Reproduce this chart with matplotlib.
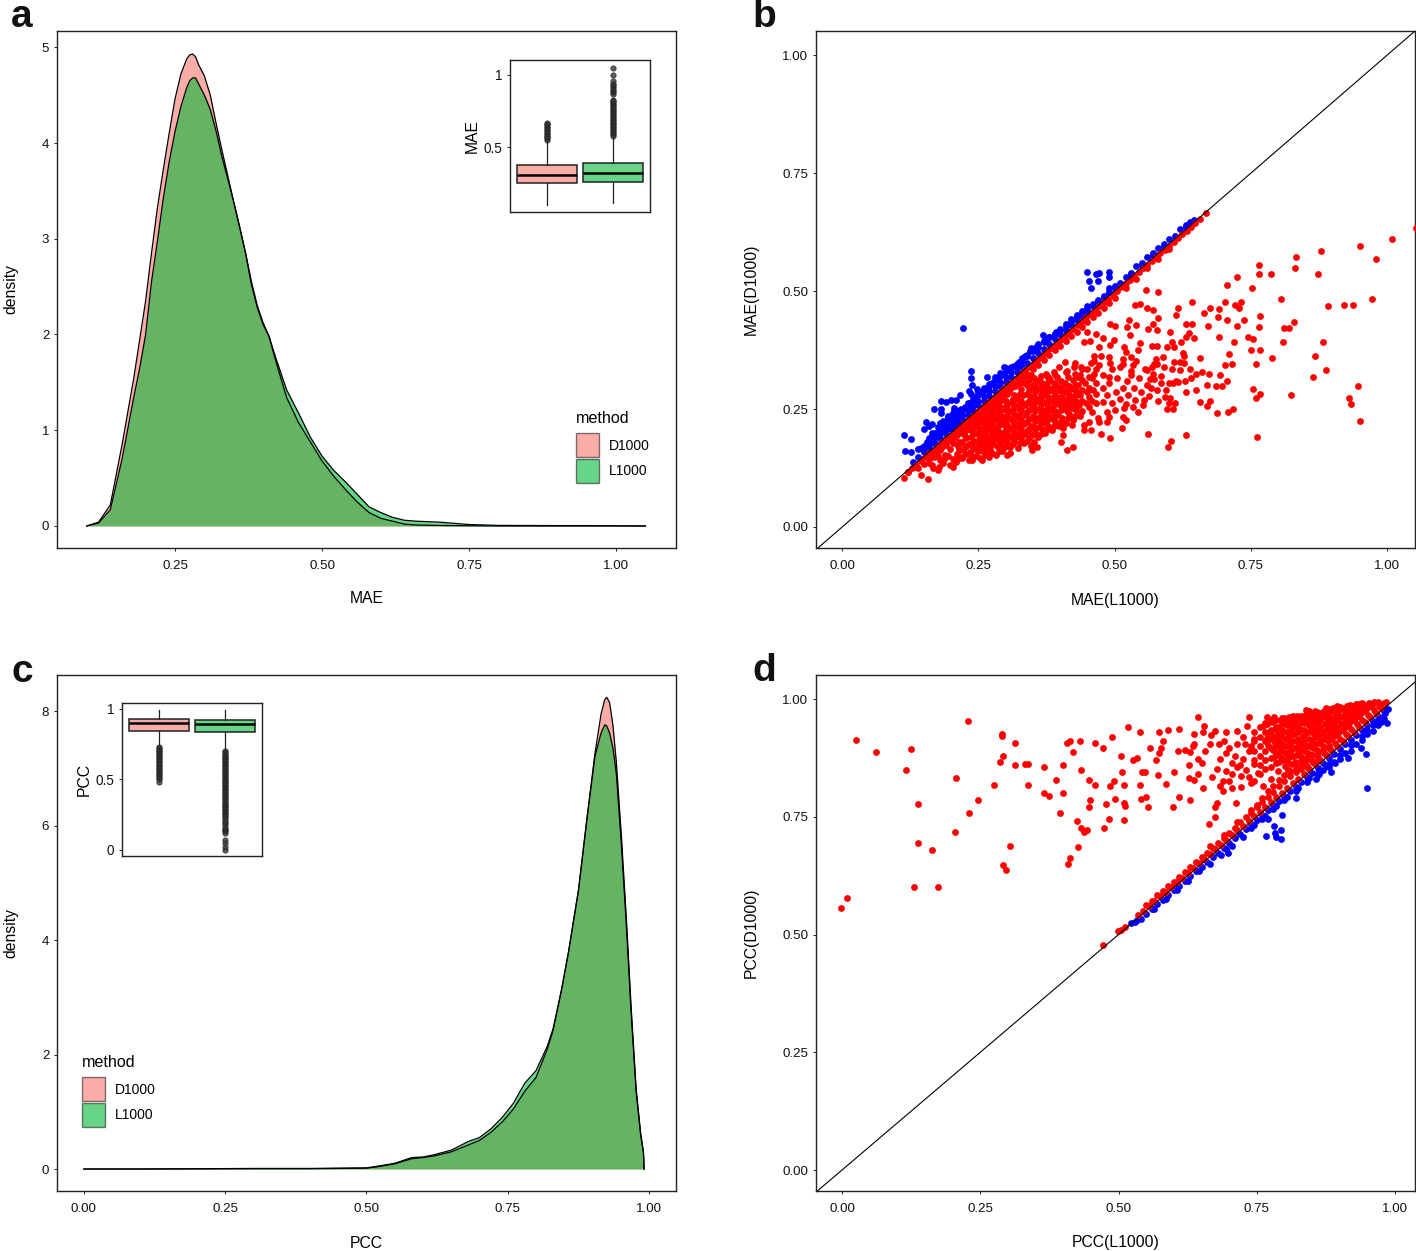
import numpy as np
import matplotlib
matplotlib.use('Agg')
import matplotlib.pyplot as plt
from matplotlib.patches import Patch

plt.rcParams['font.family'] = ['Liberation Sans', 'DejaVu Sans']

RED = '#F8766D'
GREEN = '#00BA38'
EDGE = '#222222'

# panel a density
mae_x = [.10, .12, .14, .16, .18, .19, .20, .21, .22, .23, .24, .25, .26, .27, .275, .28, .285, .29, .30, .31, .32, .33,
         .34, .35, .36, .37, .38, .39, .40, .41, .42, .44, .46, .48, .50, .52, .54, .56, .58, .60, .62, .64, .66, .70,
         .75, .80, .90, .96, 1.05]
mae_l1000 = [0, .03, .17, .7, 1.35, 1.65, 2.0, 2.55, 2.97, 3.42, 3.8, 4.12, 4.38, 4.58, 4.65, 4.68, 4.68, 4.62, 4.5, 4.35,
             4.12, 3.85, 3.62, 3.38, 3.12, 2.85, 2.52, 2.28, 2.1, 1.98, 1.78, 1.42, 1.18, .93, .73, .58, .46, .33, .2, .14,
             .09, .06, .05, .04, .015, .006, .004, .004, 0]
mae_d1000 = [0, .04, .22, .85, 1.55, 1.95, 2.35, 2.85, 3.32, 3.72, 4.1, 4.46, 4.72, 4.88, 4.92, 4.93, 4.9, 4.82, 4.7, 4.5,
             4.2, 3.92, 3.65, 3.38, 3.12, 2.85, 2.55, 2.3, 2.12, 1.98, 1.75, 1.34, 1.08, .88, .68, .52, .38, .25, .14, .08,
             .05, .02, .01, .005, .002, 0, 0, 0, 0]

# panel c density
pcc_x = [0, .1, .3, .4, .5, .52, .55, .58, .6, .62, .65, .68, .7, .72, .74, .76, .78, .80, .82, .83, .845, .857, .875, .889,
         .904, .915, .9215, .925, .93, .936, .942, .951, .96, .968, .977, .985, .99, .991]
pcc_l1000 = [0, 0, .01, .01, .02, .05, .1, .2, .21, .25, .33, .48, .55, .7, .9, 1.15, 1.5, 1.72, 2.15, 2.45, 3.13, 3.77,
             4.87, 6.04, 7.2, 7.62, 7.76, 7.74, 7.62, 7.35, 6.9, 5.65, 4.2, 2.75, 1.35, .6, .28, 0]
pcc_d1000 = [0, 0, .005, .005, .015, .04, .09, .18, .2, .23, .3, .42, .5, .64, .82, 1.05, 1.36, 1.6, 2.1, 2.42, 3.13, 3.77,
             4.87, 6.04, 7.25, 7.95, 8.2, 8.24, 8.15, 7.75, 7.1, 5.8, 4.32, 2.85, 1.4, .62, .28, 0]

# inset boxes: q1, median, q3, whisker low, whisker high
mae_box_d = [.25, .306, .373, .097, .544]
mae_box_l = [.257, .317, .389, .11, .572]
pcc_box_d = [.842, .90, .929, .74, .988]
pcc_box_l = [.834, .893, .922, .709, .988]
mae_fliers_d = [.55, .56, .57, .58, .59, .60, .61, .62, .63, .64, .65, .66, .67]
mae_fliers_l = [.58, .59, .60, .61, .62, .63, .64, .65, .66, .67, .68, .69, .70, .71, .72, .73, .74, .75, .76, .77, .78, .79,
                .80, .81, .82, .83, .87, .88, .89, .90, .92, .93, .94, .96, 1.0, 1.05]
pcc_fliers_d = [.73, .72, .71, .70, .69, .68, .67, .66, .65, .64, .63, .62, .61, .60, .59, .58, .57, .56, .55, .54, .53, .52,
                .51, .50, .48]
pcc_fliers_l = [.70, .69, .68, .67, .66, .65, .64, .63, .62, .61, .60, .59, .58, .57, .56, .55, .54, .53, .52, .51, .50, .49,
                .48, .47, .46, .45, .44, .43, .42, .41, .40, .39, .38, .37, .36, .35, .34, .33, .32, .31, .30, .29, .28, .27,
                .26, .25, .24, .23, .22, .20, .19, .18, .16, .15, .14, .13, .12, .07, .05, .02, .0]

# panel b scatter, loose points
b_red = [(1.008, .610), (.950, .596), (.879, .585), (.832, .573), (.980, .568), (.764, .556), (.830, .549), (.764, .537),
         (.787, .537), (.873, .537), (.724, .529), (.706, .512), (.752, .507), (.558, .503), (.579, .499), (.806, .484),
         (.973, .484), (.641, .477), (.703, .477), (.731, .477), (.538, .470), (.546, .472), (.720, .470), (.729, .465),
         (.891, .468), (.921, .470), (.938, .470), (.560, .464), (.570, .459), (.616, .463), (.613, .449), (.675, .463),
         (.691, .461), (.663, .454), (.690, .444), (.766, .447), (.579, .442), (.526, .438), (.706, .438), (.738, .438),
         (.829, .435), (.491, .431), (.501, .426), (.539, .428), (.522, .424), (.570, .431), (.631, .431), (.642, .431),
         (.672, .426), (.725, .426), (.764, .424), (.811, .421), (.820, .421), (.562, .419), (.577, .417), (.601, .414),
         (.528, .407), (.637, .412), (.450, .414), (.465, .410), (.478, .400), (.631, .402), (.645, .400), (.691, .402),
         (.744, .402), (.754, .398), (.455, .395), (.444, .391), (.498, .396), (.492, .386), (.546, .389), (.606, .393),
         (.622, .393), (.719, .391), (.808, .391), (.883, .391), (.471, .382), (.518, .382), (.568, .384), (.577, .384),
         (.596, .381), (.609, .381), (.542, .375), (.750, .375), (.766, .375), (.625, .368), (.709, .366), (.867, .363),
         (.789, .359), (.656, .359), (.521, .371), (.462, .362), (.474, .362), (.489, .361), (.515, .357), (.530, .361),
         (.575, .357), (.589, .361), (.609, .350), (.628, .347), (.759, .345), (.702, .343), (.716, .345), (.408, .350),
         (.427, .348), (.456, .347), (.471, .343), (.492, .347), (.534, .343), (.578, .345), (.439, .340), (.509, .338),
         (.559, .333), (.568, .338), (.619, .333), (.887, .333), (.863, .318), (.640, .316), (.650, .325), (.660, .328),
         (.673, .325), (.694, .323), (.706, .309), (.390, .323), (.411, .329), (.377, .318), (.433, .318), (.462, .325),
         (.489, .318), (.530, .322), (.565, .314), (.573, .313), (.585, .306), (.599, .305), (.607, .306), (.617, .308),
         (.629, .309), (.669, .300), (.685, .298), (.696, .298), (.567, .295), (.631, .286), (.754, .293), (.766, .282),
         (.759, .273), (.823, .280), (.946, .298), (.929, .273), (.933, .261), (.950, .224), (.761, .191), (.656, .265),
         (.675, .266), (.670, .256), (.687, .242), (.708, .244), (.717, .249), (.579, .266), (.610, .263), (.593, .276),
         (.602, .273), (.596, .249), (.607, .251), (.562, .198), (.631, .195), (.604, .182), (.598, .170), (.491, .189),
         (.475, .198), (.514, .209), (.518, .253), (.543, .244), (.534, .255), (.553, .269), (.515, .234), (.521, .227),
         (.486, .244), (.490, .234), (.456, .205), (.443, .205), (.443, .216), (.471, .222), (.485, .222), (.453, .222),
         (.458, .244), (.439, .244), (.423, .227), (.421, .216), (.405, .209), (.405, .194), (.402, .181), (.412, .163),
         (.423, .170), (.358, .170), (.349, .163), (.308, .156), (.303, .152), (.294, .160), (.264, .154), (.252, .146),
         (.239, .142), (.220, .146), (.204, .128), (.189, .146), (.180, .141), (.166, .124), (.175, .121), (.165, .131),
         (.145, .110), (.157, .102), (.114, .104), (.120, .117), (.134, .128), (1.052, .634)]

# panel b scatter, the dense cloud under the diagonal
b_red_cloud = [(.160, .135), (.168, .148), (.178, .128), (.175, .150), (.172, .160), (.185, .135), (.188, .152), (.183, .170),
               (.197, .131), (.195, .150), (.198, .165), (.193, .182), (.208, .138), (.210, .155), (.212, .172), (.207, .190),
               (.220, .148), (.222, .163), (.219, .180), (.224, .198), (.221, .208), (.232, .142), (.235, .158), (.233, .175),
               (.236, .190), (.234, .207), (.231, .220), (.245, .150), (.247, .168), (.244, .183), (.248, .200), (.246, .215),
               (.243, .232), (.257, .143), (.259, .160), (.256, .178), (.260, .195), (.258, .210), (.255, .228), (.259, .242),
               (.270, .148), (.272, .165), (.268, .185), (.271, .205), (.269, .222), (.273, .238), (.270, .255), (.282, .152),
               (.284, .172), (.281, .192), (.285, .208), (.283, .226), (.280, .245), (.284, .265), (.295, .165), (.297, .185),
               (.293, .200), (.296, .218), (.294, .235), (.298, .255), (.295, .278), (.308, .170), (.310, .190), (.306, .208),
               (.311, .226), (.308, .245), (.312, .265), (.307, .288), (.322, .168), (.320, .192), (.323, .212), (.319, .232),
               (.324, .250), (.321, .272), (.318, .298), (.334, .178), (.336, .198), (.333, .218), (.337, .238), (.335, .258),
               (.332, .280), (.336, .306), (.347, .172), (.349, .195), (.346, .215), (.350, .236), (.348, .258), (.345, .278),
               (.349, .298), (.346, .322), (.360, .190), (.362, .212), (.358, .232), (.363, .252), (.360, .272), (.357, .292),
               (.361, .312), (.372, .200), (.374, .220), (.371, .240), (.375, .258), (.373, .280), (.370, .300), (.374, .325),
               (.385, .205), (.386, .228), (.383, .248), (.387, .268), (.384, .290), (.382, .312), (.398, .215), (.396, .238),
               (.399, .258), (.395, .276), (.398, .296), (.394, .318), (.397, .338), (.410, .220), (.412, .245), (.409, .265),
               (.411, .285), (.408, .305), (.412, .330), (.423, .228), (.421, .252), (.424, .272), (.420, .292), (.423, .312),
               (.425, .338), (.436, .235), (.434, .258), (.437, .280), (.433, .300), (.436, .322), (.447, .262), (.449, .285),
               (.446, .305), (.450, .335), (.460, .290), (.458, .315), (.462, .352), (.458, .268), (.215, .163), (.215, .181),
               (.215, .199), (.228, .155), (.228, .172), (.228, .188), (.228, .205), (.240, .165), (.240, .180), (.240, .197),
               (.240, .212), (.240, .225), (.252, .172), (.252, .188), (.252, .205), (.252, .222), (.252, .236), (.265, .175),
               (.265, .192), (.265, .212), (.265, .230), (.265, .248), (.277, .182), (.277, .198), (.277, .215), (.277, .235),
               (.277, .255), (.290, .175), (.290, .195), (.290, .225), (.290, .245), (.290, .268), (.302, .180), (.302, .198),
               (.302, .216), (.302, .236), (.302, .258), (.302, .282), (.315, .182), (.315, .202), (.315, .220), (.315, .240),
               (.315, .258), (.315, .280), (.328, .188), (.328, .208), (.328, .228), (.328, .248), (.328, .268), (.328, .292),
               (.342, .188), (.342, .208), (.342, .228), (.342, .248), (.342, .268), (.342, .290), (.342, .312), (.354, .202),
               (.354, .225), (.354, .245), (.354, .265), (.354, .285), (.354, .305), (.366, .208), (.366, .230), (.366, .248),
               (.366, .268), (.366, .288), (.366, .305), (.378, .215), (.378, .235), (.378, .255), (.378, .275), (.378, .295),
               (.378, .318), (.391, .225), (.391, .245), (.391, .265), (.391, .285), (.391, .305), (.404, .232), (.404, .255),
               (.404, .275), (.404, .295), (.416, .240), (.416, .262), (.416, .280), (.416, .298), (.429, .248), (.429, .268),
               (.429, .288)]

b_red_fill = [(.203, .145), (.203, .178), (.215, .146), (.226, .192), (.226, .170), (.238, .150), (.238, .172), (.238, .203),
              (.250, .160), (.250, .180), (.250, .197), (.250, .214), (.250, .229), (.262, .152), (.262, .168), (.262, .186),
              (.262, .203), (.262, .221), (.262, .238), (.275, .157), (.275, .175), (.275, .192), (.275, .208), (.275, .225),
              (.275, .245), (.275, .262), (.288, .160), (.288, .185), (.288, .202), (.288, .217), (.288, .236), (.288, .256),
              (.288, .275), (.300, .172), (.300, .190), (.300, .207), (.300, .227), (.300, .247), (.300, .268), (.300, .290),
              (.313, .176), (.313, .196), (.313, .212), (.313, .232), (.313, .250), (.313, .272), (.313, .298), (.326, .178),
              (.326, .200), (.326, .220), (.326, .240), (.326, .260), (.326, .282), (.326, .305), (.339, .182), (.339, .203),
              (.339, .223), (.339, .243), (.339, .262), (.339, .282), (.339, .300), (.339, .320), (.352, .180), (.352, .212),
              (.352, .232), (.352, .255), (.352, .275), (.352, .295), (.352, .315), (.364, .198), (.364, .220), (.364, .240),
              (.364, .260), (.364, .280), (.364, .298), (.364, .320), (.377, .208), (.377, .228), (.377, .248), (.377, .268),
              (.377, .288), (.377, .308), (.388, .215), (.388, .238), (.388, .258), (.388, .278), (.388, .298), (.388, .328),
              (.402, .222), (.402, .248), (.402, .268), (.402, .288), (.402, .310), (.414, .232), (.414, .255), (.414, .272),
              (.414, .292), (.414, .318), (.427, .236), (.427, .260), (.427, .280), (.427, .300), (.427, .325), (.440, .245),
              (.440, .268), (.440, .290), (.440, .312), (.440, .335), (.452, .255), (.452, .275), (.452, .295), (.452, .318),
              (.465, .262), (.465, .282), (.465, .305), (.465, .335), (.470, .232), (.478, .265), (.478, .295), (.478, .322),
              (.485, .280), (.490, .305), (.495, .262), (.495, .335), (.500, .248), (.503, .285), (.505, .315), (.510, .272),
              (.515, .295), (.515, .345), (.520, .260), (.522, .310), (.525, .280), (.530, .330), (.535, .295), (.538, .270),
              (.540, .352), (.545, .315), (.548, .285), (.552, .258), (.555, .335), (.560, .300), (.563, .278), (.570, .325),
              (.572, .345), (.578, .290), (.585, .320), (.590, .340), (.595, .290), (.600, .262), (.605, .335), (.612, .310),
              (.620, .350), (.628, .362), (.638, .335), (.650, .290)]

# panel b, red hugging the diagonal
b_red_band = [(.120, .116), (.128, .124), (.136, .132), (.144, .140), (.152, .148), (.160, .156), (.168, .164), (.176, .172),
              (.184, .180), (.192, .188), (.200, .196), (.208, .204), (.216, .212), (.224, .220), (.232, .228), (.240, .236),
              (.248, .244), (.256, .252), (.264, .260), (.272, .268), (.280, .276), (.288, .284), (.296, .292), (.304, .300),
              (.312, .308), (.320, .316), (.328, .324), (.336, .332), (.344, .340), (.352, .348), (.360, .356), (.368, .364),
              (.376, .372), (.384, .380), (.392, .388), (.400, .396), (.408, .404), (.416, .412), (.424, .420), (.432, .428),
              (.440, .436), (.448, .444), (.456, .452), (.464, .460), (.472, .468), (.480, .476), (.488, .484), (.496, .492),
              (.504, .500), (.512, .508), (.520, .516), (.528, .524), (.536, .532), (.544, .540), (.552, .548), (.560, .556),
              (.568, .564), (.576, .572), (.584, .580), (.592, .588), (.600, .596), (.608, .604), (.616, .612), (.624, .620),
              (.632, .628), (.640, .636), (.648, .644), (.656, .652), (.668, .666), (.140, .124), (.150, .134), (.160, .144),
              (.170, .154), (.180, .164), (.190, .174), (.200, .184), (.210, .194), (.220, .204), (.230, .214), (.240, .224),
              (.250, .234), (.260, .244), (.270, .254), (.280, .264), (.290, .274), (.300, .284), (.310, .294), (.320, .304),
              (.330, .314), (.340, .324), (.350, .334), (.360, .344), (.370, .354), (.380, .364), (.390, .374), (.400, .384),
              (.410, .394), (.420, .404), (.430, .414), (.440, .424), (.450, .434), (.460, .444), (.470, .454), (.480, .464),
              (.490, .474), (.500, .486), (.520, .506), (.540, .526), (.560, .548), (.580, .568), (.600, .590)]

# panel b, blue
b_blue = [(.221, .422), (.450, .540), (.465, .536), (.472, .539), (.489, .540), (.452, .522), (.469, .522), (.490, .529),
          (.456, .506), (.489, .506), (.236, .330), (.236, .316), (.238, .301), (.266, .318), (.297, .338), (.369, .407),
          (.393, .414), (.346, .380), (.248, .292), (.232, .288), (.236, .282), (.217, .280), (.182, .266), (.190, .264),
          (.200, .269), (.208, .269), (.169, .249), (.182, .249), (.182, .242), (.205, .253), (.216, .248), (.154, .222),
          (.165, .218), (.151, .207), (.160, .213), (.114, .196), (.126, .186), (.116, .161), (.126, .158), (.160, .189),
          (.180, .220), (.195, .234), (.204, .241), (.145, .167), (.154, .170), (.163, .177),
          (.165, .190), (.170, .200), (.180, .205), (.185, .215), (.190, .222), (.195, .215), (.200, .225), (.205, .232),
          (.210, .240), (.215, .235), (.220, .245), (.225, .255), (.230, .258), (.235, .262), (.240, .268), (.245, .275),
          (.250, .280), (.255, .285), (.260, .290), (.265, .295), (.270, .298), (.275, .305), (.280, .312), (.285, .315),
          (.290, .320), (.295, .325), (.300, .330), (.305, .335), (.310, .340), (.315, .342), (.320, .345), (.325, .350),
          (.330, .358), (.335, .362), (.340, .365), (.345, .372), (.350, .378), (.355, .382), (.360, .388), (.370, .395),
          (.375, .398), (.380, .402), (.390, .408), (.400, .418), (.410, .425), (.420, .435), (.430, .445), (.440, .452),
          (.450, .462), (.460, .472), (.470, .482), (.480, .490), (.490, .498), (.500, .510), (.520, .530), (.530, .538),
          (.540, .552), (.550, .560), (.560, .572), (.570, .580), (.580, .592), (.590, .600), (.600, .610), (.620, .632),
          (.630, .640), (.638, .646), (.645, .650),
          (.130, .138), (.140, .148), (.150, .158), (.160, .168), (.170, .178), (.180, .188), (.190, .198), (.200, .208),
          (.210, .218), (.220, .228), (.230, .238), (.240, .248), (.250, .258), (.260, .268), (.270, .278), (.280, .288),
          (.290, .298), (.300, .308), (.310, .318), (.320, .328), (.330, .338), (.340, .348), (.350, .358), (.360, .368),
          (.370, .378), (.380, .388), (.390, .398), (.400, .408), (.410, .418), (.420, .428), (.430, .438), (.440, .448),
          (.450, .458), (.460, .468), (.470, .478), (.480, .488), (.490, .498), (.500, .506), (.510, .516), (.530, .536),
          (.550, .556), (.570, .576), (.590, .596), (.610, .616), (.630, .636),
          (.170, .190), (.180, .200), (.190, .210), (.200, .218), (.210, .228), (.220, .238), (.230, .248), (.240, .258),
          (.250, .268), (.260, .278), (.270, .288), (.280, .298), (.290, .308), (.300, .318), (.310, .328), (.320, .336),
          (.330, .352), (.340, .362), (.350, .372), (.360, .382), (.370, .392), (.380, .402), (.390, .410), (.400, .420),
          (.410, .430), (.420, .440), (.430, .450), (.440, .458), (.450, .468), (.195, .235), (.205, .245), (.212, .225),
          (.218, .250), (.165, .200), (.175, .212), (.185, .225), (.190, .205), (.205, .215), (.140, .165), (.150, .172),
          (.155, .180), (.170, .190), (.230, .262), (.240, .272), (.250, .285), (.260, .295), (.270, .302), (.280, .318),
          (.290, .326), (.300, .336)]

# panel d scatter, loose points
d_red = [(-.001, .557), (.009, .578), (.026, .913), (.061, .888), (.125, .894), (.115, .850), (.228, .953), (.206, .833),
         (.138, .777), (.274, .817), (.290, .926), (.290, .921), (.313, .906), (.292, .878), (.286, .866), (.313, .859),
         (.331, .862), (.336, .862), (.366, .855), (.399, .859), (.337, .817), (.387, .829), (.246, .785), (.230, .759),
         (.204, .717), (.138, .694), (.163, .680), (.303, .687), (.292, .648), (.296, .636), (.130, .601), (.173, .601),
         (.366, .801), (.374, .794), (.399, .801), (.433, .850), (.407, .906), (.413, .911), (.431, .911), (.457, .906),
         (.417, .888), (.472, .897), (.488, .920), (.518, .941), (.538, .931), (.505, .880), (.527, .871), (.534, .874),
         (.507, .845), (.543, .845), (.547, .845), (.447, .829), (.457, .817), (.492, .827), (.484, .815), (.510, .817),
         (.538, .817), (.449, .785), (.447, .771), (.478, .777), (.494, .787), (.509, .780), (.512, .773), (.541, .787),
         (.550, .792), (.554, .771), (.395, .757), (.425, .741), (.483, .745), (.510, .743), (.433, .727), (.438, .718),
         (.443, .722), (.473, .727), (.427, .685), (.413, .662), (.409, .650), (.574, .931), (.590, .934), (.609, .936),
         (.580, .911), (.576, .897), (.573, .886), (.556, .895), (.568, .871), (.608, .890), (.572, .838), (.586, .820),
         (.601, .845), (.609, .792), (.630, .785), (.599, .771), (.644, .962), (.655, .943), (.652, .931), (.637, .925),
         (.674, .932), (.668, .923), (.637, .904), (.634, .900), (.620, .892), (.630, .888), (.656, .890), (.665, .904),
         (.644, .872), (.651, .865), (.627, .860), (.627, .832), (.637, .828), (.644, .840), (.652, .811), (.669, .835),
         (.678, .851), (.688, .826), (.684, .815), (.689, .805), (.705, .811), (.721, .813), (.678, .780), (.674, .770),
         (.713, .780), (.674, .749), (.663, .734), (.740, .821), (.761, .816), (.776, .830), (.695, .929), (.715, .932),
         (.735, .962), (.732, .943), (.769, .962), (.781, .962), (.762, .943), (.839, .976), (.681, .904), (.695, .886),
         (.684, .872), (.705, .865), (.715, .904), (.735, .890), (.725, .872), (.745, .861), (.752, .844), (.695, .847),
         (.721, .837), (.789, .848), (.806, .849), (.765, .851), (.745, .826), (.472, .477), (.499, .508), (.505, .510),
         (.512, .517), (.690, .910), (.700, .895), (.710, .880), (.720, .860), (.730, .850), (.705, .840), (.715, .855),
         (.700, .825), (.735, .835), (.725, .920), (.745, .915), (.740, .900), (.755, .840), (.728, .905)]

# panel d scatter, the dense corner top right
d_red_cloud = [(.771, .902), (.768, .917), (.772, .931), (.769, .946), (.781, .876), (.779, .891), (.782, .906), (.780, .921),
               (.783, .936), (.778, .951), (.791, .866), (.789, .881), (.792, .896), (.790, .911), (.788, .926), (.791, .941),
               (.793, .955), (.801, .857), (.799, .871), (.802, .886), (.800, .901), (.803, .916), (.798, .931), (.801, .946),
               (.799, .960), (.811, .861), (.809, .876), (.812, .891), (.810, .906), (.808, .921), (.811, .936), (.813, .950),
               (.809, .962), (.821, .851), (.819, .866), (.822, .881), (.820, .896), (.823, .911), (.818, .926), (.821, .941),
               (.819, .955), (.822, .965), (.831, .861), (.829, .876), (.832, .891), (.830, .906), (.833, .921), (.828, .936),
               (.831, .951), (.829, .963), (.841, .856), (.839, .871), (.842, .886), (.840, .901), (.838, .916), (.841, .931),
               (.843, .946), (.839, .960), (.842, .971), (.851, .866), (.849, .881), (.852, .896), (.850, .911), (.853, .926),
               (.848, .941), (.851, .956), (.849, .968), (.861, .876), (.859, .891), (.862, .906), (.860, .921), (.858, .936),
               (.861, .951), (.863, .965), (.859, .973), (.871, .886), (.869, .901), (.872, .916), (.870, .931), (.873, .946),
               (.868, .961), (.871, .975), (.881, .896), (.879, .911), (.882, .926), (.880, .941), (.878, .956), (.881, .971),
               (.883, .979), (.891, .906), (.889, .921), (.892, .936), (.890, .951), (.893, .966), (.888, .981), (.901, .916),
               (.899, .931), (.902, .946), (.900, .961), (.898, .976), (.901, .984), (.911, .926), (.909, .941), (.912, .956),
               (.910, .971), (.913, .985), (.921, .936), (.919, .951), (.922, .966), (.920, .980), (.918, .988), (.931, .946),
               (.929, .961), (.932, .976), (.930, .989), (.941, .956), (.939, .971), (.942, .985), (.940, .991), (.951, .966),
               (.949, .981), (.952, .991), (.961, .976), (.959, .988), (.962, .993), (.971, .985), (.969, .993), (.980, .991),
               (.984, .993)]

d_red_fill = [(.745, .870), (.745, .890), (.745, .910), (.745, .930), (.755, .860), (.755, .880), (.755, .900), (.755, .920),
              (.755, .940), (.765, .870), (.765, .890), (.765, .910), (.765, .930), (.765, .950), (.775, .855), (.775, .875),
              (.775, .895), (.775, .915), (.775, .935), (.775, .955), (.785, .865), (.785, .885), (.785, .900), (.785, .920),
              (.785, .940), (.785, .955), (.795, .875), (.795, .890), (.795, .905), (.795, .920), (.795, .935), (.795, .950),
              (.795, .960), (.805, .870), (.805, .885), (.805, .900), (.805, .915), (.805, .930), (.805, .945), (.805, .955),
              (.815, .880), (.815, .895), (.815, .910), (.815, .925), (.815, .940), (.815, .955), (.815, .965), (.825, .885),
              (.825, .900), (.825, .915), (.825, .930), (.825, .945), (.825, .960), (.835, .890), (.835, .905), (.835, .920),
              (.835, .935), (.835, .950), (.835, .965), (.845, .900), (.845, .915), (.845, .930), (.845, .945), (.845, .960),
              (.845, .975), (.855, .905), (.855, .920), (.855, .935), (.855, .950), (.855, .965), (.855, .975), (.865, .910),
              (.865, .925), (.865, .940), (.865, .955), (.865, .970), (.875, .920), (.875, .935), (.875, .950), (.875, .965),
              (.875, .980), (.885, .915), (.885, .930), (.885, .945), (.885, .960), (.885, .975), (.895, .925), (.895, .940),
              (.895, .955), (.895, .970), (.895, .985), (.905, .935), (.905, .950), (.905, .965), (.905, .980), (.915, .945),
              (.915, .960), (.915, .975), (.915, .985), (.925, .955), (.925, .970), (.925, .985), (.935, .965), (.935, .980),
              (.935, .990), (.945, .975), (.945, .988), (.955, .985)]

# panel d, red hugging the diagonal
d_red_band = [(.535, .541), (.545, .551), (.555, .561), (.565, .571), (.575, .581), (.585, .591), (.595, .601), (.605, .611),
              (.615, .621), (.625, .631), (.635, .641), (.645, .651), (.655, .661), (.665, .671), (.675, .681), (.685, .691),
              (.695, .701), (.705, .711), (.715, .721), (.725, .731), (.735, .741), (.745, .751), (.755, .761), (.765, .771),
              (.775, .781), (.785, .791), (.795, .801), (.805, .811), (.815, .821), (.825, .831), (.835, .841), (.845, .851),
              (.855, .861), (.865, .871), (.875, .881), (.885, .891), (.895, .901), (.905, .911), (.915, .921), (.925, .931),
              (.935, .941), (.945, .951), (.955, .961), (.965, .971), (.975, .981),
              (.560, .572), (.580, .592), (.600, .612), (.620, .633), (.640, .653), (.660, .674), (.680, .695), (.700, .716),
              (.710, .727), (.720, .738), (.730, .749), (.740, .758), (.750, .770), (.760, .782), (.770, .793), (.780, .803),
              (.790, .815), (.800, .826), (.810, .836), (.820, .845), (.830, .852), (.840, .858), (.850, .868), (.860, .872),
              (.740, .765), (.750, .776), (.760, .790), (.770, .805), (.780, .815), (.790, .828), (.800, .838), (.810, .848),
              (.820, .858), (.830, .868), (.840, .876), (.850, .882), (.860, .888), (.870, .892), (.880, .900), (.665, .688),
              (.690, .712), (.715, .738), (.550, .563), (.570, .583), (.590, .603), (.610, .623), (.630, .644), (.650, .664),
              (.670, .684), (.690, .705)]

# panel d, blue
d_blue = [(.950, .811), (.771, .745), (.795, .753), (.781, .731), (.793, .722), (.767, .710), (.782, .715), (.784, .708),
          (.793, .703), (.821, .790), (.884, .845), (.914, .874), (.948, .883), (.938, .897), (.695, .681), (.698, .674),
          (.857, .830), (.862, .840), (.891, .865), (.877, .858), (.522, .524), (.534, .531),
          (.530, .526), (.540, .534), (.550, .544), (.560, .554), (.570, .564), (.580, .574), (.590, .584), (.600, .594),
          (.610, .604), (.620, .614), (.630, .624), (.640, .634), (.650, .644), (.660, .654), (.670, .664), (.680, .674),
          (.690, .684), (.700, .694), (.710, .704), (.720, .714), (.730, .724), (.740, .734), (.750, .744), (.760, .754),
          (.770, .764), (.780, .774), (.790, .784), (.800, .794), (.810, .804), (.820, .814), (.830, .824), (.840, .834),
          (.850, .844), (.860, .854), (.870, .864), (.880, .874), (.890, .884), (.900, .894), (.910, .904), (.920, .914),
          (.930, .924), (.940, .934), (.950, .944), (.960, .954), (.970, .964), (.980, .974),
          (.740, .726), (.760, .746), (.780, .766), (.800, .785), (.820, .805), (.840, .824), (.860, .844), (.880, .862),
          (.900, .882), (.920, .902), (.940, .922), (.950, .934), (.960, .944), (.970, .954), (.978, .962), (.982, .970),
          (.880, .855), (.890, .866), (.900, .872), (.910, .886), (.920, .890), (.930, .905), (.940, .912), (.950, .925),
          (.960, .932), (.970, .945), (.975, .952), (.980, .958), (.985, .950), (.988, .979), (.860, .838), (.870, .850),
          (.665, .650), (.685, .668), (.705, .688), (.725, .708), (.565, .555), (.585, .575), (.605, .595), (.625, .614),
          (.645, .634), (.745, .732), (.765, .752), (.785, .772), (.805, .792), (.825, .812), (.845, .832)]

tick_vals = [0.00, 0.25, 0.50, 0.75, 1.00]
density_ticks_a = [0, 1, 2, 3, 4, 5]
density_ticks_c = [0, 2, 4, 6, 8]

W, H = 1416, 1251
fig = plt.figure(figsize=(W / 100, H / 100), dpi=100, facecolor='white')


def add_ax(x0, y0, x1, y1):
    # pixel box of the panel, y from the top
    return fig.add_axes([x0 / W, 1 - y1 / H, (x1 - x0) / W, (y1 - y0) / H])


def style(ax, lw=1.0):
    for sp in ax.spines.values():
        sp.set_linewidth(lw)
        sp.set_color(EDGE)
    ax.tick_params(length=2.5, width=.7, color=EDGE, labelsize=9.6, labelcolor='#111111', pad=3)
    ax.tick_params(axis='x', pad=6)


def density(ax, x, d, l):
    ax.fill_between(x, d, color=RED, alpha=.6, lw=0)
    ax.plot(x, d, color='black', lw=.9)
    ax.fill_between(x, l, color=GREEN, alpha=.6, lw=0)
    ax.plot(x, l, color='black', lw=.9)


def inset_box(ax, box_d, box_l, fliers_d, fliers_l, name, yticks, ylabels):
    stats = []
    for b, f in [(box_d, fliers_d), (box_l, fliers_l)]:
        stats.append(dict(q1=b[0], med=b[1], q3=b[2], whislo=b[3], whishi=b[4], fliers=f))
    res = ax.bxp(stats, positions=[1, 2], widths=.9, patch_artist=True, showcaps=False,
                 boxprops=dict(edgecolor=EDGE, linewidth=1.1),
                 medianprops=dict(color='black', linewidth=1.8),
                 whiskerprops=dict(color=EDGE, linewidth=.9),
                 flierprops=dict(marker='o', markersize=3.9, markerfacecolor='#333333', markeredgecolor='#222222',
                                 markeredgewidth=.5, alpha=.8))
    for patch, col in zip(res['boxes'], [RED, GREEN]):
        patch.set_facecolor(matplotlib.colors.to_rgba(col, .6))
        patch.set_edgecolor(EDGE)
    style(ax)
    ax.set_xlim(.45, 2.55)
    ax.set_xticks([])
    ax.set_yticks(yticks)
    ax.set_yticklabels(ylabels, fontsize=9.8)
    ax.set_ylabel(name, fontsize=11.3, labelpad=3)


def method_legend(ax, x, y):
    handles = [Patch(facecolor=RED, alpha=.6, edgecolor=EDGE, lw=1), Patch(facecolor=GREEN, alpha=.6, edgecolor=EDGE, lw=1)]
    leg = ax.legend(handles, ['D1000', 'L1000'], title='method', frameon=False, loc='upper left',
                    bbox_to_anchor=(x, y), bbox_transform=ax.transAxes, fontsize=10, title_fontsize=11.6,
                    alignment='left', handlelength=1.66, handleheight=2.28, labelspacing=.1, handletextpad=.7,
                    borderpad=0, borderaxespad=0)
    # gap between the title and the colour keys
    leg._legend_box.sep = 5.3
    return leg


def scatter_panel(ax, blue, reds, xlab, ylab, xpad):
    xy = np.array(blue).T
    ax.scatter(xy[0], xy[1], s=24, color='#0000FF', linewidths=0, zorder=2)
    for r in reds:
        xy = np.array(r).T
        ax.scatter(xy[0], xy[1], s=24, color='#FF0000', linewidths=0, zorder=3)
    ax.axline((0, 0), slope=1, color='black', lw=.8, zorder=4)
    style(ax)
    ax.set_xticks(tick_vals)
    ax.set_xticklabels(['%.2f' % v for v in tick_vals])
    ax.set_yticks(tick_vals)
    ax.set_yticklabels(['%.2f' % v for v in tick_vals])
    ax.set_xlabel(xlab, fontsize=11.3, labelpad=xpad)
    ax.set_ylabel(ylab, fontsize=11.3, labelpad=17)


# a
ax = add_ax(57, 31, 676, 548)
density(ax, mae_x, mae_d1000, mae_l1000)
style(ax)
ax.set_xlim(.0493, 1.102)
ax.set_ylim(-.23, 5.17)
ax.set_xticks([.25, .5, .75, 1.0])
ax.set_xticklabels(['0.25', '0.50', '0.75', '1.00'])
ax.set_yticks(density_ticks_a)
ax.set_xlabel('MAE', fontsize=11.3, labelpad=14)
ax.set_ylabel('density', fontsize=11.3, labelpad=17)
method_legend(ax, (576 - 57) / 619, (548 - 411) / 517)

inset = add_ax(510, 60, 650, 212)
inset_box(inset, mae_box_d, mae_box_l, mae_fliers_d, mae_fliers_l, 'MAE', [.5, 1], ['0.5', '1'])
inset.set_ylim(.05, 1.104)

# b
ax = add_ax(816, 31, 1415, 548)
scatter_panel(ax, b_blue, [b_red, b_red_cloud, b_red_fill, b_red_band], 'MAE(L1000)', 'MAE(D1000)', 15)
ax.set_xlim(-.048, 1.051)
ax.set_ylim(-.0445, 1.051)

# c
ax = add_ax(57, 675, 676, 1191)
density(ax, pcc_x, pcc_d1000, pcc_l1000)
style(ax)
ax.set_xlim(-.0475, 1.0475)
ax.set_ylim(-.384, 8.63)
ax.set_xticks(tick_vals)
ax.set_xticklabels(['%.2f' % v for v in tick_vals])
ax.set_yticks(density_ticks_c)
ax.set_xlabel('PCC', fontsize=11.3, labelpad=15.5)
ax.set_ylabel('density', fontsize=11.3, labelpad=17)
method_legend(ax, (82 - 57) / 619, (1191 - 1055) / 516)

inset = add_ax(122, 703, 262, 856)
inset_box(inset, pcc_box_d, pcc_box_l, pcc_fliers_d, pcc_fliers_l, 'PCC', [0, .5, 1], ['0', '0.5', '1'])
inset.set_ylim(-.045, 1.04)

# d
ax = add_ax(816, 675, 1415, 1191)
scatter_panel(ax, d_blue, [d_red, d_red_cloud, d_red_fill, d_red_band], 'PCC(L1000)', 'PCC(D1000)', 14.5)
ax.set_xlim(-.047, 1.036)
ax.set_ylim(-.0445, 1.051)

for letter, px, py in [('a', 22, 17), ('b', 764, 17), ('c', 22, 672), ('d', 764, 671)]:
    fig.text(px / W, 1 - py / H, letter, fontsize=28, fontweight='bold', ha='center', va='center', color='#111111')

fig.savefig('out.png', dpi=100)
